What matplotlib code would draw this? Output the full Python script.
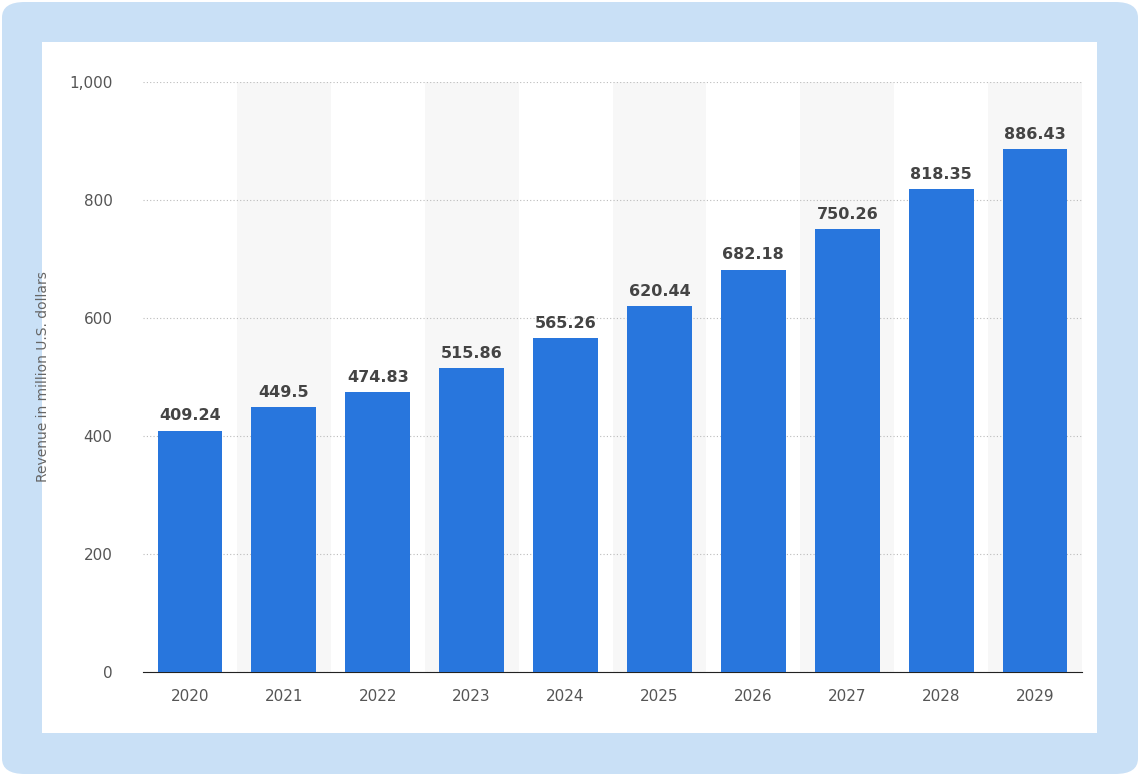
import matplotlib
matplotlib.use("Agg")
import matplotlib.pyplot as plt
from matplotlib.patches import FancyBboxPatch, Rectangle

years = ["2020", "2021", "2022", "2023", "2024", "2025", "2026", "2027", "2028", "2029"]
revenue = [409.24, 449.5, 474.83, 515.86, 565.26, 620.44, 682.18, 750.26, 818.35, 886.43]
labels = ["409.24", "449.5", "474.83", "515.86", "565.26", "620.44", "682.18", "750.26", "818.35", "886.43"]

W, H = 1140, 776
fig = plt.figure(figsize=(W/100, H/100), dpi=100, facecolor="white")
fig.patches.append(FancyBboxPatch((2/W, 2/H), 1-4/W, 1-4/H, boxstyle="round,pad=0,rounding_size=0.02",
                                  transform=fig.transFigure, facecolor="#c9e0f6", edgecolor="none", zorder=-10))
fig.patches.append(Rectangle((42/W, 1-733/H), (1097-42)/W, (733-42)/H, transform=fig.transFigure,
                             facecolor="white", edgecolor="none", zorder=-9))

ax = fig.add_axes([143/W, 1-672/H, (1082-143)/W, (672-82)/H])
ax.set_zorder(5)
ax.set_facecolor("none")
x = list(range(len(years)))
for i in x:
    if i % 2 == 1:
        ax.axvspan(i-0.5, i+0.5, color="#f7f7f7", zorder=0, lw=0)
ax.bar(x, revenue, width=0.69, color="#2876dd", zorder=3)
for xi, v, s in zip(x, revenue, labels):
    ax.text(xi, v+12, s, ha="center", va="bottom", fontsize=11.5, fontweight="bold", color="#444444", zorder=4)
ax.set_xlim(-0.5, len(years)-0.5)
ax.set_ylim(0, 1000)
ax.set_yticks([0, 200, 400, 600, 800, 1000])
ax.set_yticklabels(["0", "200", "400", "600", "800", "1,000"])
ax.set_xticks(x)
ax.set_xticklabels(years)
ax.yaxis.grid(True, linestyle=(0, (1, 2)), color="#bbbbbb", lw=0.8, zorder=1)
ax.set_axisbelow(True)
for sp in ["top", "right", "left"]:
    ax.spines[sp].set_visible(False)
ax.spines["bottom"].set_color("#222222")
ax.tick_params(axis="both", length=0, labelsize=11, colors="#555555")
ax.tick_params(axis="x", pad=12)
ax.tick_params(axis="y", pad=22)
ax.set_ylabel("Revenue in million U.S. dollars", fontsize=10, color="#666666", labelpad=14)
fig.savefig("out.png", dpi=100)
